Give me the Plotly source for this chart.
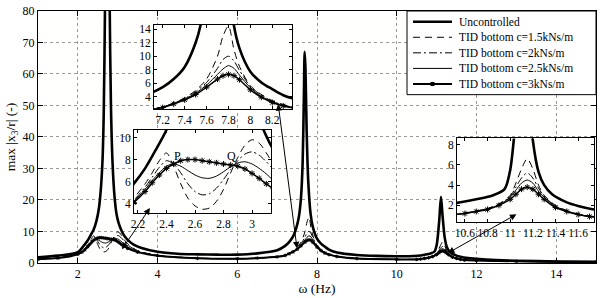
import plotly.graph_objects as go

# ---------------- data ----------------
unc_freq = [1.0, 1.5, 2.0, 2.17, 2.25, 2.33, 2.4, 2.47, 2.53, 2.58, 2.62, 2.65, 2.68, 2.71, 2.74,
            2.77, 2.8, 2.83, 2.87, 2.92, 2.97, 3.02, 3.08, 3.15, 3.25, 3.4, 3.6, 4.0, 4.5, 5.0,
            5.5, 6.0, 6.5, 7.0, 7.2, 7.3, 7.4, 7.5, 7.55, 7.6, 7.64, 7.67, 7.69, 7.71, 7.74,
            7.78, 7.84, 7.9, 8.0, 8.1, 8.2, 8.3, 8.5, 9.0, 9.5, 10.0, 10.3, 10.53, 10.7, 10.85,
            10.95, 11.0, 11.03, 11.07, 11.11, 11.15, 11.2, 11.25, 11.3, 11.37, 11.5, 11.6, 11.74,
            12.0, 12.5, 13.0, 14.0, 15.0]
unc_amp = [1.8, 2.3, 3.4, 5.8, 7.2, 9.0, 10.7, 13.5, 17.5, 24, 33, 48, 80, 130, 160,
           130, 80, 50, 32, 21, 15.5, 12.8, 10.7, 8.9, 7.3, 5.8, 4.7, 3.5, 2.9, 2.7,
           2.6, 2.6, 3.0, 4.0, 5.4, 6.6, 8.4, 12.0, 15.0, 21, 32, 52, 67, 62, 42,
           26, 15.5, 11.2, 7.7, 6.1, 5.1, 4.2, 3.3, 2.5, 2.2, 2.1, 2.1, 2.25, 2.6, 3.0,
           3.6, 5.5, 8.3, 14, 21, 15, 8.4, 5.3, 4.0, 3.1, 2.3, 1.95, 1.6,
           1.25, 0.85, 0.65, 0.45, 0.35]

tid_freq = [1.0, 1.5, 2.0, 2.1, 2.17, 2.25, 2.3, 2.35, 2.4, 2.45, 2.5, 2.55, 2.6, 2.65,
            2.7, 2.75, 2.8, 2.85, 2.9, 2.95, 3.0, 3.05, 3.1, 3.15, 3.25, 3.5, 4.0, 5.0, 6.0,
            6.5, 7.0, 7.2, 7.3, 7.4, 7.5, 7.6, 7.7, 7.75, 7.8, 7.85, 7.9, 8.0, 8.1, 8.2, 8.3,
            8.5, 9.0, 10.0, 10.5, 10.6, 10.7, 10.8, 10.9, 11.0, 11.05, 11.1, 11.15, 11.2, 11.25,
            11.3, 11.4, 11.5, 11.6, 11.7, 12.0, 13.0, 14.0, 15.0]
tid_c15 = [1.15, 1.55, 2.9, 3.6, 4.5, 5.8, 6.8, 7.9, 8.6, 7.4, 5.8, 4.5, 3.8, 3.5,
           3.6, 4.2, 5.3, 6.8, 8.2, 9.3, 9.8, 9.5, 8.6, 7.6, 6.0, 3.9, 2.4, 1.5, 1.3,
           1.5, 1.95, 2.45, 3.05, 3.8, 4.9, 6.6, 10.0, 13.0, 14.5, 11.0, 8.5, 5.6, 4.3, 3.4, 2.8,
           2.1, 1.4, 1.1, 1.15, 1.25, 1.45, 1.7, 2.15, 3.0, 4.2, 5.6, 6.6, 5.6, 4.0,
           3.0, 2.0, 1.5, 1.15, 0.95, 0.75, 0.5, 0.35, 0.28]
tid_c20 = [1.15, 1.55, 2.85, 3.5, 4.3, 5.5, 6.4, 7.3, 7.9, 7.6, 6.8, 5.8, 5.1, 4.8,
           4.9, 5.4, 6.2, 7.1, 7.9, 8.5, 8.7, 8.4, 7.8, 7.1, 5.7, 3.8, 2.35, 1.5, 1.3,
           1.5, 1.95, 2.45, 3.0, 3.7, 4.7, 6.1, 8.2, 9.5, 10.0, 9.3, 7.9, 5.5, 4.2, 3.3, 2.75,
           2.1, 1.4, 1.1, 1.15, 1.25, 1.45, 1.7, 2.1, 2.9, 3.8, 4.7, 5.2, 4.7, 3.7,
           2.9, 1.95, 1.45, 1.15, 0.95, 0.75, 0.5, 0.35, 0.28]
tid_c25 = [1.15, 1.55, 2.8, 3.45, 4.2, 5.3, 6.1, 6.8, 7.4, 7.6, 7.4, 7.0, 6.6, 6.35,
           6.3, 6.5, 6.9, 7.35, 7.7, 7.8, 7.6, 7.2, 6.7, 6.1, 5.1, 3.6, 2.3, 1.5, 1.3,
           1.5, 1.95, 2.4, 2.95, 3.6, 4.5, 5.7, 7.3, 8.1, 8.6, 8.2, 7.2, 5.3, 4.0, 3.2, 2.7,
           2.05, 1.35, 1.1, 1.1, 1.2, 1.4, 1.65, 2.05, 2.8, 3.5, 4.2, 4.5, 4.2, 3.4,
           2.8, 1.9, 1.45, 1.1, 0.9, 0.75, 0.5, 0.35, 0.28]
tid_c30 = [1.15, 1.5, 2.75, 3.4, 4.1, 5.1, 5.9, 6.6, 7.2, 7.6, 7.9, 8.0, 8.0, 7.9,
           7.8, 7.7, 7.6, 7.5, 7.4, 7.15, 6.75, 6.3, 5.8, 5.35, 4.6, 3.4, 2.25, 1.45, 1.3,
           1.5, 1.9, 2.35, 2.9, 3.5, 4.3, 5.4, 6.6, 7.1, 7.3, 7.1, 6.5, 5.0, 3.9, 3.1, 2.6,
           2.0, 1.35, 1.1, 1.1, 1.2, 1.4, 1.6, 2.0, 2.6, 3.1, 3.6, 3.8, 3.6, 3.1,
           2.6, 1.8, 1.4, 1.1, 0.9, 0.75, 0.5, 0.35, 0.28]

series_names = ["Uncontrolled", "TID bottom c=1.5kNs/m", "TID bottom c=2kNs/m",
                "TID bottom c=2.5kNs/m", "TID bottom c=3kNs/m"]

main_xticks = [2, 4, 6, 8, 10, 12, 14]
main_yticks = [0, 10, 20, 30, 40, 50, 60, 70, 80]
in1_xticks = [7.2, 7.4, 7.6, 7.8, 8, 8.2]
in1_yticks = [4, 6, 8, 10, 12, 14]
in2_xticks = [2.2, 2.4, 2.6, 2.8, 3]
in2_yticks = [4, 6, 8, 10]
in3_xticks = [10.6, 10.8, 11, 11.2, 11.4, 11.6]
in3_yticks = [2, 4, 6, 8]

# ---------------- styles ----------------
FONT = "Liberation Serif, Times New Roman, DejaVu Serif, serif"
DASH = "7px,5px"
DASHDOT = "8px,3px,2px,3px"
styles = [
    dict(width=2.6, dash="solid"),
    dict(width=1, dash=DASH),
    dict(width=1, dash=DASHDOT),
    dict(width=1, dash="solid"),
    dict(width=2.0, dash="solid"),
]

fig = go.Figure()
axes_sets = [("x", "y", True), ("x2", "y2", False), ("x3", "y3", False), ("x4", "y4", False)]
series_data = [(unc_freq, unc_amp), (tid_freq, tid_c15), (tid_freq, tid_c20),
               (tid_freq, tid_c25), (tid_freq, tid_c30)]

for xa, ya, is_main in axes_sets:
    for i, (fx, fy) in enumerate(series_data):
        st = styles[i]
        lw = st["width"]
        if i == 4 and not is_main:
            lw = 1.5
        kw = dict(x=fx, y=fy, name=series_names[i], xaxis=xa, yaxis=ya, showlegend=False,
                  line=dict(color="black", width=lw, dash=st["dash"], shape="spline", smoothing=0.8))
        if i == 4:
            kw["mode"] = "lines+markers"
            kw["marker"] = dict(symbol="asterisk-open", size=3 if is_main else 5, color="black",
                                line=dict(width=1, color="black"))
        else:
            kw["mode"] = "lines"
        fig.add_trace(go.Scatter(**kw))

tickfont = dict(family=FONT, size=12, color="black")
intickfont = dict(family=FONT, size=11.5, color="black")
common = dict(showline=True, linecolor="black", linewidth=1, mirror="allticks",
              ticks="inside", tickcolor="black", zeroline=False, ticklabeloverflow="allow")

fig.update_layout(
    width=602, height=298,
    margin=dict(l=38, r=6, t=4, b=35),
    paper_bgcolor="white", plot_bgcolor="#fffffe",
    font=dict(family=FONT, size=12, color="black"),
    showlegend=False,
    xaxis=dict(range=[1, 15], tickvals=main_xticks, ticklen=5, showgrid=True, tickfont=tickfont,
               gridcolor="#9a9a9a", griddash="dot", gridwidth=1,
               title=dict(text="ω (Hz)", font=dict(family=FONT, size=13.5), standoff=1), **common),
    yaxis=dict(range=[-0.05, 80], tickvals=main_yticks, ticklen=5, showgrid=True, tickfont=tickfont,
               gridcolor="#9a9a9a", griddash="dot", gridwidth=1,
               title=dict(text="max |x<sub>3</sub>/r| (-)", font=dict(family=FONT, size=13.5), standoff=3),
               **common),
    xaxis2=dict(domain=[0.2079, 0.4552], anchor="y2", range=[7.12, 8.38], tickvals=in1_xticks,
                ticklen=3, showgrid=False, tickfont=intickfont, **common),
    yaxis2=dict(domain=[0.6100, 0.9459], anchor="x2", range=[2.1, 14.7], tickvals=in1_yticks,
                ticklen=3, showgrid=False, tickfont=intickfont, **common),
    xaxis3=dict(domain=[0.1720, 0.4176], anchor="y3", range=[2.172, 3.133], tickvals=in2_xticks,
                ticklen=3, showgrid=False, tickfont=intickfont, **common),
    yaxis3=dict(domain=[0.1969, 0.5290], anchor="x3", range=[3.12, 10.71], tickvals=in2_yticks,
                ticklen=3, showgrid=False, tickfont=intickfont, **common),
    xaxis4=dict(domain=[0.7509, 0.9964], anchor="y4", range=[10.53, 11.74], tickvals=in3_xticks,
                ticklen=3, showgrid=False, tickfont=intickfont, **common),
    yaxis4=dict(domain=[0.1622, 0.4942], anchor="x4", range=[0.35, 8.6], tickvals=in3_yticks,
                ticklen=3, showgrid=False, tickfont=intickfont, **common),
)

# ---------------- legend (drawn as a boxed key in the top-right corner) ----------------
leg_x0, leg_x1, leg_y0, leg_y1 = 0.6613, 1.0, 0.6680, 1.0
fig.add_shape(type="rect", xref="paper", yref="paper", x0=leg_x0, x1=leg_x1, y0=leg_y0, y1=leg_y1,
              line=dict(color="black", width=1), fillcolor="white", layer="above")
row_y = [0.9575, 0.8957, 0.8340, 0.7722, 0.7104]
samp_x0, samp_x1, text_x = 0.6720, 0.7419, 0.7509
for i, ry in enumerate(row_y):
    st = styles[i]
    fig.add_shape(type="line", xref="paper", yref="paper", x0=samp_x0, x1=samp_x1, y0=ry, y1=ry,
                  line=dict(color="black", width=st["width"], dash=st["dash"]), layer="above")
    fig.add_annotation(x=text_x, y=ry, xref="paper", yref="paper", text=series_names[i],
                       showarrow=False, xanchor="left", yanchor="middle",
                       font=dict(family=FONT, size=11.5, color="black"))
mx = (samp_x0 + samp_x1) / 2
fig.add_shape(type="rect", xref="paper", yref="paper", x0=mx - 0.003, x1=mx + 0.003,
              y0=row_y[4] - 0.006, y1=row_y[4] + 0.006, line=dict(color="black", width=1),
              fillcolor="black", layer="above")

# P / Q labels on the left inset
label_text = ["P", "Q"]
label_x = [2.474, 2.853]
label_y = [8.3, 8.3]
for t, lx, ly in zip(label_text, label_x, label_y):
    fig.add_annotation(x=lx, y=ly, xref="x3", yref="y3", text=t, showarrow=False,
                       font=dict(family=FONT, size=12, color="black"))

# double-headed arrows linking insets to the main curves
arrow_head_x = [3.107, 7.498, 11.286]
arrow_head_y = [4.3, 4.6, 3.1]
arrow_tail_x = [3.835, 7.021, 13.042]
arrow_tail_y = [17.9, 50.9, 15.7]
for hx, hy, tx, ty in zip(arrow_head_x, arrow_head_y, arrow_tail_x, arrow_tail_y):
    fig.add_annotation(x=hx, y=hy, ax=tx, ay=ty, xref="x", yref="y", axref="x", ayref="y",
                       text="", showarrow=True, arrowhead=2, arrowsize=1.3, arrowwidth=1,
                       arrowside="end+start", arrowcolor="black")

fig.write_html("out.html")
